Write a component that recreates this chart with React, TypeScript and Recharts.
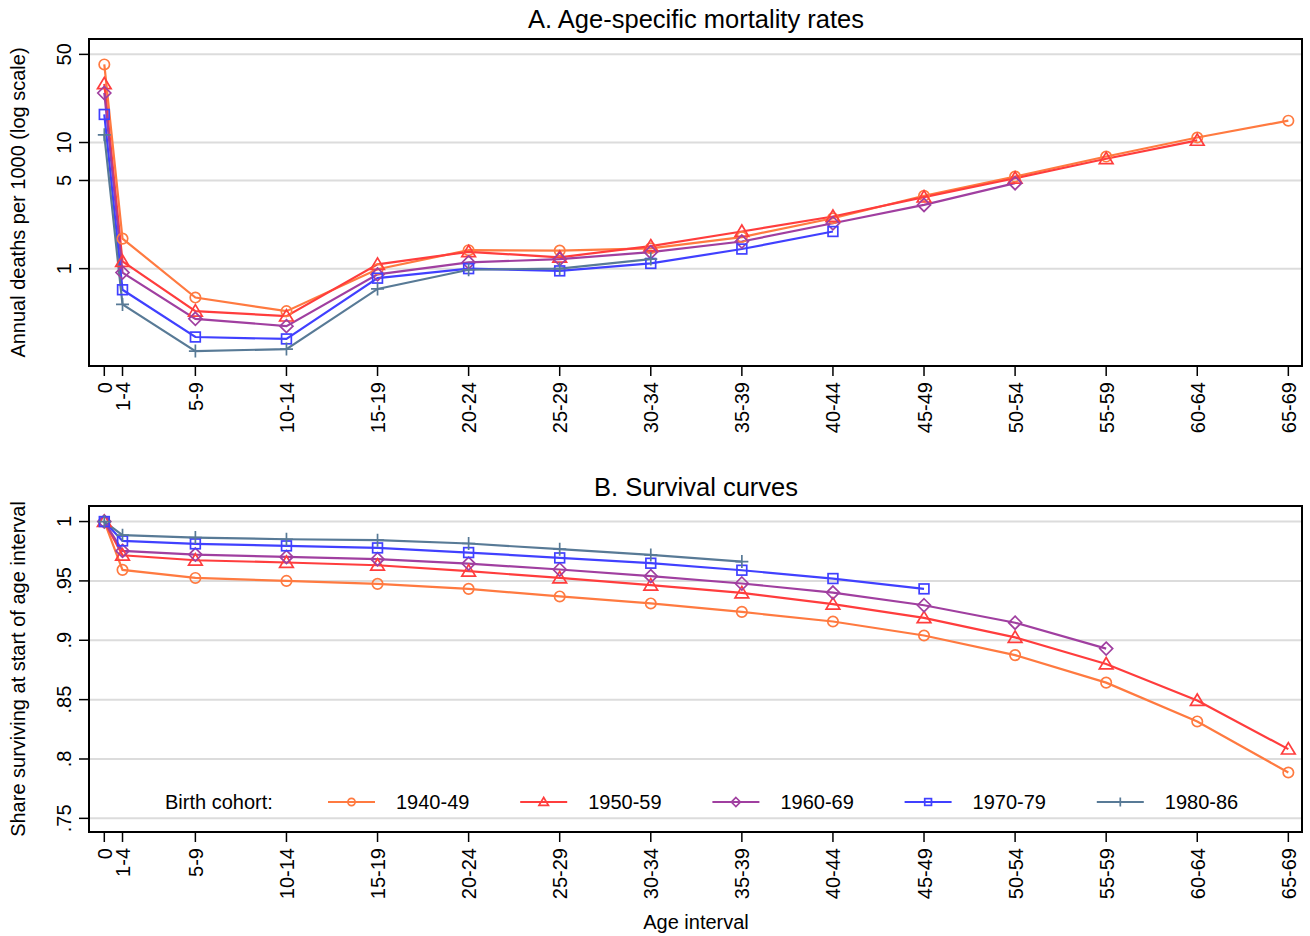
import React from 'react';
import { LineChart, Line, XAxis, YAxis, CartesianGrid, ReferenceArea, Legend } from 'recharts';

// age interval start (x position) and its label
const ageStarts = [0, 1, 5, 10, 15, 20, 25, 30, 35, 40, 45, 50, 55, 60, 65];
const ageLabels = ['0', '1-4', '5-9', '10-14', '15-19', '20-24', '25-29', '30-34', '35-39', '40-44', '45-49', '50-54', '55-59', '60-64', '65-69'];

const cohorts = ['1940-49', '1950-59', '1960-69', '1970-79', '1980-86'];

// A. deaths per 1000 by age interval
const mort1940 = [41.6, 1.73, 0.59, 0.46, 0.99, 1.40, 1.39, 1.45, 1.78, 2.51, 3.78, 5.37, 7.74, 10.96, 14.9];
const mort1950 = [29.2, 1.14, 0.46, 0.42, 1.08, 1.36, 1.23, 1.51, 1.97, 2.59, 3.69, 5.21, 7.43, 10.4];
const mort1960 = [24.7, 0.93, 0.40, 0.35, 0.90, 1.12, 1.19, 1.35, 1.64, 2.29, 3.20, 4.76];
const mort1970 = [16.7, 0.68, 0.287, 0.277, 0.84, 1.00, 0.96, 1.10, 1.43, 1.97];
const mort1980 = [11.5, 0.52, 0.222, 0.23, 0.69, 0.98, 1.00, 1.19];

// B. share surviving at start of interval
const surv1940 = [1, 0.9593, 0.9525, 0.950, 0.9475, 0.9433, 0.9369, 0.9310, 0.9239, 0.9158, 0.9040, 0.8875, 0.8643, 0.8316, 0.7886];
const surv1950 = [1, 0.9716, 0.9674, 0.9655, 0.9632, 0.9582, 0.9525, 0.9464, 0.9399, 0.9304, 0.9189, 0.9024, 0.8800, 0.8493, 0.8083];
const surv1960 = [1, 0.9753, 0.9722, 0.9702, 0.9683, 0.9646, 0.9596, 0.9540, 0.9478, 0.9402, 0.9295, 0.9148, 0.8930];
const surv1970 = [1, 0.9837, 0.9812, 0.9795, 0.9778, 0.9739, 0.9694, 0.9649, 0.9590, 0.9520, 0.9433];
const surv1980 = [1, 0.9885, 0.9865, 0.9851, 0.9843, 0.9815, 0.9767, 0.9719, 0.9663];

const mortTicks = [1, 5, 10, 50];
const survTicks = [0.75, 0.8, 0.85, 0.9, 0.95, 1];
const survTickLabels = ['.75', '.8', '.85', '.9', '.95', '1'];

const colors = ['#FF7A40', '#FF3D3D', '#A03FA0', '#4040FF', '#587A96'];
const markers = ['circle', 'triangle', 'diamond', 'square', 'plus'];

const FONT = '"Liberation Sans", Arial, Helvetica, sans-serif';
const X_DOMAIN: [number, number] = [-0.84, 65.75];
const MORT_DOMAIN: [number, number] = [0.169, 66.2];
const SURV_DOMAIN: [number, number] = [0.7385, 1.0131];

function buildRows(series: number[][]) {
  return ageStarts.map((age, i) => {
    const row: Record<string, number | null> = { age };
    series.forEach((s, k) => {
      row['c' + k] = i < s.length ? s[i] : null;
    });
    return row;
  });
}

const mortRows = buildRows([mort1940, mort1950, mort1960, mort1970, mort1980]);
const survRows = buildRows([surv1940, surv1950, surv1960, surv1970, surv1980]);

function Marker({ kind, cx, cy, color, s }: { kind: string; cx: number; cy: number; color: string; s: number }) {
  const sw = 1.7;
  if (kind === 'circle') return <circle cx={cx} cy={cy} r={s * 0.8} fill="none" stroke={color} strokeWidth={sw} />;
  if (kind === 'triangle')
    return (
      <polygon
        points={`${cx},${cy - s} ${cx + s * 1.05},${cy + s * 0.75} ${cx - s * 1.05},${cy + s * 0.75}`}
        fill="none"
        stroke={color}
        strokeWidth={sw}
      />
    );
  if (kind === 'diamond')
    return (
      <polygon
        points={`${cx},${cy - s} ${cx + s},${cy} ${cx},${cy + s} ${cx - s},${cy}`}
        fill="none"
        stroke={color}
        strokeWidth={sw}
      />
    );
  if (kind === 'square')
    return <rect x={cx - s * 0.75} y={cy - s * 0.75} width={s * 1.5} height={s * 1.5} fill="none" stroke={color} strokeWidth={sw} />;
  return <path d={`M${cx - s},${cy}H${cx + s}M${cx},${cy - s}V${cy + s}`} stroke={color} strokeWidth={sw} />;
}

const dotFor = (k: number) => (p: any) => {
  const key = `d${k}-${p.index}`;
  if (p.cx == null || p.cy == null || p.value == null) return <g key={key} />;
  return (
    <g key={key}>
      <Marker kind={markers[k]} cx={p.cx} cy={p.cy} color={colors[k]} s={6.5} />
    </g>
  );
};

const XTick = (props: any) => {
  const { x, y, payload } = props;
  const idx = ageStarts.indexOf(payload.value);
  const tx = x + 7.5;
  const ty = y + 4;
  return (
    <text x={tx} y={ty} transform={`rotate(-90, ${tx}, ${ty})`} textAnchor="end" fontSize={20} fontFamily={FONT} fill="#000">
      {idx >= 0 ? ageLabels[idx] : ''}
    </text>
  );
};

const makeYTick = (fmt: (v: number) => string) => (props: any) => {
  const { x, y, payload } = props;
  const tx = x - 6;
  return (
    <text x={tx} y={y} transform={`rotate(-90, ${tx}, ${y})`} textAnchor="middle" fontSize={20} fontFamily={FONT} fill="#000">
      {fmt(payload.value)}
    </text>
  );
};

const MortYTick = makeYTick((v) => String(v));
const SurvYTick = makeYTick((v) => survTickLabels[survTicks.indexOf(v)] ?? String(v));

const renderLegend = () => (
  <svg width={1310} height={30} style={{ display: 'block' }}>
    <text x={165} y={15} dominantBaseline="central" fontSize={20} fontFamily={FONT} fill="#000">
      Birth cohort:
    </text>
    {cohorts.map((c, k) => {
      const x0 = 328 + 192.2 * k;
      return (
        <g key={c}>
          <line x1={x0} x2={x0 + 47} y1={15} y2={15} stroke={colors[k]} strokeWidth={2} />
          <Marker kind={markers[k]} cx={x0 + 23.5} cy={15} color={colors[k]} s={4.5} />
          <text x={x0 + 68} y={15} dominantBaseline="central" fontSize={20} fontFamily={FONT} fill="#000">
            {c}
          </text>
        </g>
      );
    })}
  </svg>
);

const axisCommon = {
  tickSize: 10,
  tickLine: { stroke: '#000', strokeWidth: 1.5 },
  axisLine: false,
  interval: 0 as const,
};

export default function App() {
  return (
    <div style={{ position: 'absolute', left: 0, top: 0, width: 1310, height: 936, background: '#fff', fontFamily: FONT }}>
      <div style={{ position: 'absolute', left: 0, top: 0 }}>
        <LineChart width={1310} height={470} data={mortRows} margin={{ top: 39, right: 8, bottom: 44, left: 29 }}>
          <CartesianGrid vertical={false} stroke="#DCDCDC" strokeWidth={2} />
          <XAxis dataKey="age" type="number" domain={X_DOMAIN} ticks={ageStarts} allowDataOverflow height={60} tick={<XTick />} {...axisCommon} />
          <YAxis
            type="number"
            scale="log"
            domain={MORT_DOMAIN}
            ticks={mortTicks}
            allowDataOverflow
            width={60}
            tick={<MortYTick />}
            {...axisCommon}
          />
          <ReferenceArea x1={X_DOMAIN[0]} x2={X_DOMAIN[1]} y1={MORT_DOMAIN[0]} y2={MORT_DOMAIN[1]} fill="none" stroke="#000" strokeWidth={2} ifOverflow="visible" />
          {cohorts.map((c, k) => (
            <Line
              key={c}
              name={c}
              dataKey={'c' + k}
              type="linear"
              stroke={colors[k]}
              strokeWidth={2.2}
              dot={dotFor(k)}
              activeDot={false}
              isAnimationActive={false}
            />
          ))}
        </LineChart>
      </div>
      <div style={{ position: 'absolute', left: 0, top: 470 }}>
        <LineChart width={1310} height={466} data={survRows} margin={{ top: 36, right: 8, bottom: 44, left: 29 }}>
          <CartesianGrid vertical={false} stroke="#DCDCDC" strokeWidth={2} />
          <XAxis dataKey="age" type="number" domain={X_DOMAIN} ticks={ageStarts} allowDataOverflow height={60} tick={<XTick />} {...axisCommon} />
          <YAxis type="number" domain={SURV_DOMAIN} ticks={survTicks} allowDataOverflow width={60} tick={<SurvYTick />} {...axisCommon} />
          <ReferenceArea x1={X_DOMAIN[0]} x2={X_DOMAIN[1]} y1={SURV_DOMAIN[0]} y2={SURV_DOMAIN[1]} fill="none" stroke="#000" strokeWidth={2} ifOverflow="visible" />
          {cohorts.map((c, k) => (
            <Line
              key={c}
              name={c}
              dataKey={'c' + k}
              type="linear"
              stroke={colors[k]}
              strokeWidth={2.2}
              dot={dotFor(k)}
              activeDot={false}
              isAnimationActive={false}
            />
          ))}
          <Legend
            layout="horizontal"
            verticalAlign="middle"
            align="center"
            content={renderLegend}
            wrapperStyle={{ left: 0, top: 317, width: 1310, height: 30 }}
          />
        </LineChart>
      </div>
      <svg width={1310} height={936} style={{ position: 'absolute', left: 0, top: 0, pointerEvents: 'none' }}>
        <text x={696} y={19} textAnchor="middle" dominantBaseline="central" fontSize={25.5} fontFamily={FONT} fill="#000">
          A. Age-specific mortality rates
        </text>
        <text x={696} y={487} textAnchor="middle" dominantBaseline="central" fontSize={25.5} fontFamily={FONT} fill="#000">
          B. Survival curves
        </text>
        <text x={18} y={202.5} transform="rotate(-90, 18, 202.5)" textAnchor="middle" dominantBaseline="central" fontSize={20} fontFamily={FONT} fill="#000">
          Annual deaths per 1000 (log scale)
        </text>
        <text x={18} y={669} transform="rotate(-90, 18, 669)" textAnchor="middle" dominantBaseline="central" fontSize={20} fontFamily={FONT} fill="#000">
          Share surviving at start of age interval
        </text>
        <text x={696} y={922} textAnchor="middle" dominantBaseline="central" fontSize={20} fontFamily={FONT} fill="#000">
          Age interval
        </text>
      </svg>
    </div>
  );
}
